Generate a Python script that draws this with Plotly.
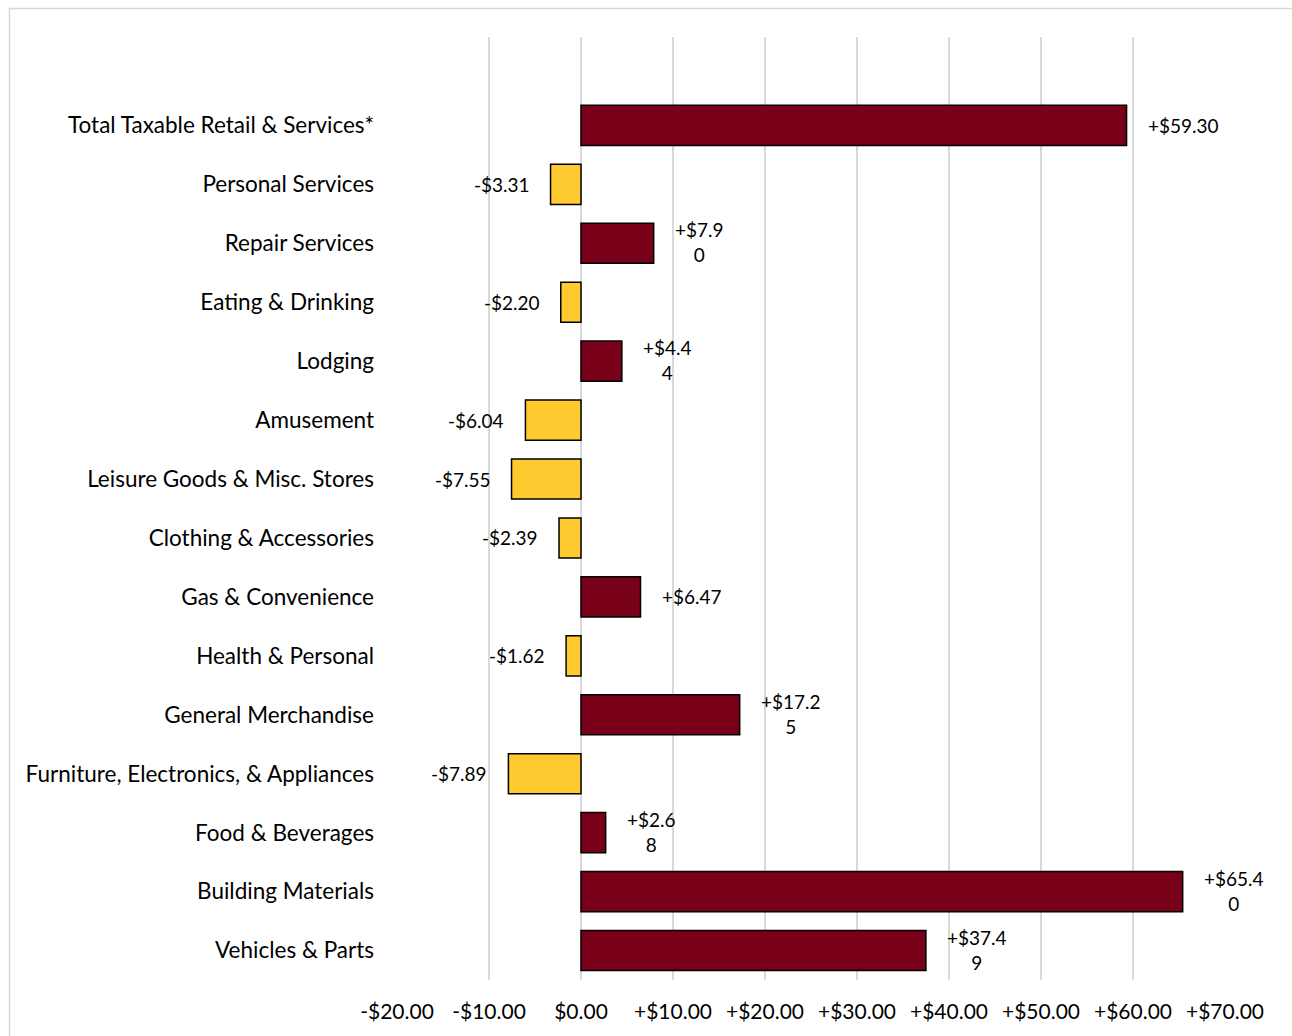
import plotly.graph_objects as go

# Change per category (dollars), listed bottom to top
categories = [
    "Vehicles & Parts",
    "Building Materials",
    "Food & Beverages",
    "Furniture, Electronics, & Appliances",
    "General Merchandise",
    "Health & Personal",
    "Gas & Convenience",
    "Clothing & Accessories",
    "Leisure Goods & Misc. Stores",
    "Amusement",
    "Lodging",
    "Eating & Drinking",
    "Repair Services",
    "Personal Services",
    "Total Taxable Retail & Services*",
]
values = [37.49, 65.40, 2.68, -7.89, 17.25, -1.62, 6.47, -2.39, -7.55, -6.04,
          4.44, -2.20, 7.90, -3.31, 59.30]
# labels that wrap their last digit onto a second line
wrapped = [True, True, True, False, True, False, False, False, False, False,
           True, False, True, False, False]
x_ticks = [-20, -10, 0, 10, 20, 30, 40, 50, 60, 70]

MAROON = "#780018"
GOLD = "#FFCA2F"
FONT = "Lato"

W, H = 1292, 1036
L, R, T, B = 397, 67, 37, 56


def money(v, decimals=2):
    sign = "+" if v > 0 else ("-" if v < 0 else "")
    return f"{sign}${abs(v):.{decimals}f}"


fig = go.Figure()
fig.add_trace(go.Bar(
    y=categories,
    x=values,
    orientation="h",
    width=0.68,
    marker=dict(color=[MAROON if v >= 0 else GOLD for v in values],
                line=dict(color="#000000", width=1.5)),
    hoverinfo="x+y",
))

for cat, v, wrap in zip(categories, values, wrapped):
    txt = money(v)
    if wrap:
        txt = txt[:-1] + "<br>" + txt[-1]
    fig.add_annotation(
        x=v, y=cat, xref="x", yref="y",
        text=txt, showarrow=False, align="center",
        xanchor="left" if v >= 0 else "right",
        xshift=19 if v >= 0 else -19,
        yshift=1 if wrap else 0,
        font=dict(family=FONT, size=19, color="#000000"),
    )

# light outer frame around the chart area
plot_w = W - L - R
plot_h = H - T - B
fig.add_shape(
    type="rect", xref="paper", yref="paper",
    x0=(9.5 - L) / plot_w, x1=(1310 - L) / plot_w,
    y0=(H - B - 1050) / plot_h, y1=(H - B - 8.5) / plot_h,
    line=dict(color="#d9d9d9", width=1.5), layer="below",
)

fig.update_layout(
    width=W, height=H,
    margin=dict(l=L, r=R, t=T, b=B),
    paper_bgcolor="#ffffff", plot_bgcolor="#ffffff",
    showlegend=False,
    font=dict(family=FONT, size=20, color="#000000"),
    xaxis=dict(
        range=[-20, 70],
        tickvals=x_ticks,
        ticktext=[money(t) for t in x_ticks],
        showgrid=True, gridcolor="#d9d9d9", gridwidth=1.5,
        zeroline=False, showline=False,
        ticks="", ticklabelstandoff=17,
        tickfont=dict(family=FONT, size=21, color="#000000"),
    ),
    yaxis=dict(
        type="category",
        categoryorder="array", categoryarray=categories,
        range=[-0.5, 15.5],
        showgrid=False, zeroline=False, showline=False,
        ticks="", ticklabelstandoff=22,
        tickfont=dict(family=FONT, size=22.5, color="#000000"),
    ),
)

fig.write_html("out.html")
